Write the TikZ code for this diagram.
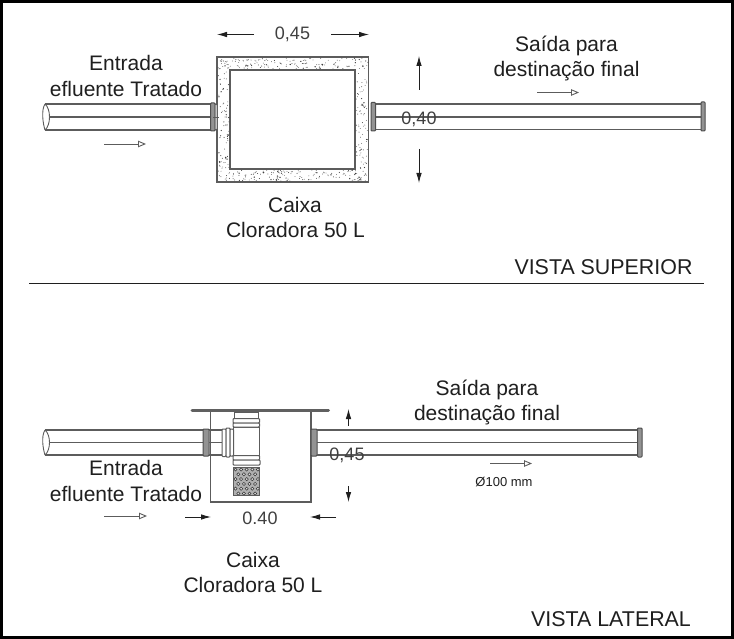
\documentclass[tikz,border=0pt]{standalone}
\usepackage{fontspec}
\setmainfont{Liberation Sans}
\usetikzlibrary{arrows.meta}
\definecolor{ln}{gray}{0.36}
\definecolor{ink}{gray}{0.12}
\tikzset{
  x=1pt,y=-1pt,
  pipeline/.style={draw=ln,line width=1.2pt},
  thin line/.style={draw=ln,line width=0.9pt},
  collar/.style={draw=ln!85!black,fill=gray!85,line width=1pt,rounded corners=0.8pt},
  lightcollar/.style={draw=ln,fill=white,line width=1pt,rounded corners=0.8pt},
  dimarrow/.style={draw=ink,line width=0.85pt,-{Latex[length=10pt,width=5.5pt]}},
  flowarrow/.style={draw=ln,line width=0.9pt,-{Triangle[open,length=8pt,width=6.5pt,fill=white]}},
  label/.style={font=\fontsize{21}{24}\selectfont,text=ink,inner sep=0pt,anchor=center},
  dimlabel/.style={font=\fontsize{18}{20}\selectfont,text=ink!85,inner sep=0pt,anchor=center},
  viewlabel/.style={font=\fontsize{21.4}{24}\selectfont,text=ink,inner sep=0pt,anchor=center},
}
\begin{document}
\begin{tikzpicture}
\useasboundingbox (0,0) rectangle (734,639);
\fill[white] (0,0) rectangle (734,639);
\draw[black,line width=3.5pt] (1,1) rectangle (732.5,637.5);

% ---- top view: box
\draw[thin line,line width=1.3pt] (217,57) rectangle (368.5,182);
\draw[thin line,line width=1.3pt] (230,70) rectangle (355,169);
\pgfmathsetseed{11}
\foreach \xa/\xb/\ya/\yb/\n in {218/368/58/69/150, 218/368/170/181/150, 218/229/70/169/75, 356/368/70/169/75}{
  \foreach \i in {1,...,\n}{
    \pgfmathsetmacro\px{\xa+rnd*(\xb-\xa)}
    \pgfmathsetmacro\py{\ya+rnd*(\yb-\ya)}
    \pgfmathsetmacro\pr{0.25+0.75*rnd*rnd*rnd+0.15}
    \fill[ink!85] (\px,\py) circle[radius=\pr];
  }
}

% ---- top view: left pipe
\draw[pipeline] (45,104) -- (211,104) (50,117) -- (211,117) (45,130) -- (211,130);
\draw[pipeline,line width=0.9pt] (45,104) .. controls (41,110) and (43,124) .. (45,130);
\draw[pipeline,line width=0.9pt] (45,104) .. controls (51,109) and (51,125) .. (45,130);
\draw[collar] (210.5,103) rectangle (215,131);
\draw[lightcollar] (215,104) rectangle (217,130);
\draw[thin line] (213,117) -- (219,117);

% ---- top view: right pipe
\draw[pipeline] (375,104) -- (701,104) (375,117) -- (701,117) (375,129.5) -- (701,129.5);
\draw[collar] (371,102.5) rectangle (375.5,131);
\draw[collar] (701,102) rectangle (705,131);

% ---- top view: dimensions
\draw[dimarrow] (254,34.5) -- (217,34.5);
\draw[dimarrow] (331,34.5) -- (369,34.5);
\node[dimlabel] (dimTopW) at (292.5,34) {0,45};
\draw[dimarrow] (419,90) -- (419,56);
\draw[dimarrow] (419,149) -- (419,183);
\node[dimlabel] (dimTopH) at (419,119) {0,40};
\draw[flowarrow] (104,144) -- (146,144);
\draw[flowarrow] (537,92.5) -- (579,92.5);

% ---- top view: labels
\node[label] (inA) at (126,63) {Entrada};
\node[label] (inB) at (126,89) {efluente Tratado};
\node[label] (boxA) at (295,205) {Caixa};
\node[label] (boxB) at (295.5,230) {Cloradora 50 L};
\node[label] (outA) at (566.5,46) {Saída para};
\node[label] (outB) at (566.5,71) {destinação final};
\node[viewlabel] (viewTop) at (603.5,267.5) {VISTA SUPERIOR};

% ---- separator
\draw[draw=ink,line width=0.9pt] (29,283) -- (704,283);

% ---- side view: box and plate
\draw[thin line,line width=1.1pt] (210.5,410) -- (210.5,502) -- (311,502) -- (311,410);
\draw[draw=gray!75!black,line width=3pt,line cap=round] (192,410) -- (328.5,410);

% ---- side view: left pipe
\draw[pipeline] (45,430) -- (203,430) (50,442.5) -- (203,442.5) (45,455) -- (203,455);
\draw[pipeline,line width=0.9pt] (45,430) .. controls (41,436) and (43,449) .. (45,455);
\draw[pipeline,line width=0.9pt] (45,430) .. controls (51,435) and (51,450) .. (45,455);
\draw[collar] (203,429) rectangle (209,456);
\draw[pipeline] (209,430) -- (222,430) (209,442.5) -- (222,442.5) (209,455) -- (222,455);

% ---- side view: tee
\draw[thin line,fill=white] (233,427) rectangle (259,456);
\draw[lightcollar] (222,429) rectangle (226,456.5);
\draw[lightcollar] (226,428) rectangle (230,457);
\draw[lightcollar] (230,429) rectangle (233.5,456);
\draw[thin line] (234,412) rectangle (258,418.5);
\draw[lightcollar] (233,418.5) rectangle (259.5,423);
\draw[lightcollar] (233,423) rectangle (259.5,427);
\draw[lightcollar] (233,455.5) rectangle (259.5,460);
\draw[lightcollar] (233,460) rectangle (260,465);

% ---- side view: strainer
\fill[gray!62] (233.5,467) rectangle (259.5,495);
\foreach \r in {0,...,5}{
  \pgfmathsetmacro\cy{469.5+\r*4.8}
  \pgfmathsetmacro\off{mod(\r,2)*2.8}
  \foreach \c in {0,...,4}{
    \pgfmathsetmacro\cx{235.5+\off+\c*5.6}
    \ifdim \cx pt<258.5pt
      \draw[draw=ink!90,fill=gray!25,line width=0.55pt] (\cx,\cy) circle[radius=1.6];
    \fi
  }
}
\draw[draw=ln,line width=0.8pt] (233.5,467) rectangle (259.5,495);

% ---- side view: right pipe
\draw[collar] (311,429) rectangle (317,456);
\draw[pipeline] (317,430) -- (637,430) (317,442.5) -- (637,442.5) (317,455) -- (637,455);
\draw[collar] (637.5,428) rectangle (642,457);

% ---- side view: dimensions
\draw[dimarrow] (348.5,426) -- (348.5,409);
\draw[dimarrow] (348.5,486) -- (348.5,502);
\node[dimlabel] (dimSideH) at (347,455) {0,45};
\draw[dimarrow] (185,517) -- (211,517);
\draw[dimarrow] (336,517) -- (310,517);
\node[dimlabel] (dimSideW) at (260,518) {0.40};
\draw[flowarrow] (104,516) -- (147,516);
\draw[flowarrow] (490,463.5) -- (532,463.5);

% ---- side view: labels
\node[label] (inC) at (126,468) {Entrada};
\node[label] (inD) at (126,493.5) {efluente Tratado};
\node[label] (boxC) at (253,560) {Caixa};
\node[label] (boxD) at (253,585) {Cloradora 50 L};
\node[label] (outC) at (487,390) {Saída para};
\node[label] (outD) at (487,415) {destinação final};
\node[font=\fontsize{13}{15}\selectfont,text=ink,inner sep=0pt] (diam) at (504,482) {Ø100 mm};
\node[viewlabel] (viewSide) at (611,619) {VISTA LATERAL};
\end{tikzpicture}
\end{document}
